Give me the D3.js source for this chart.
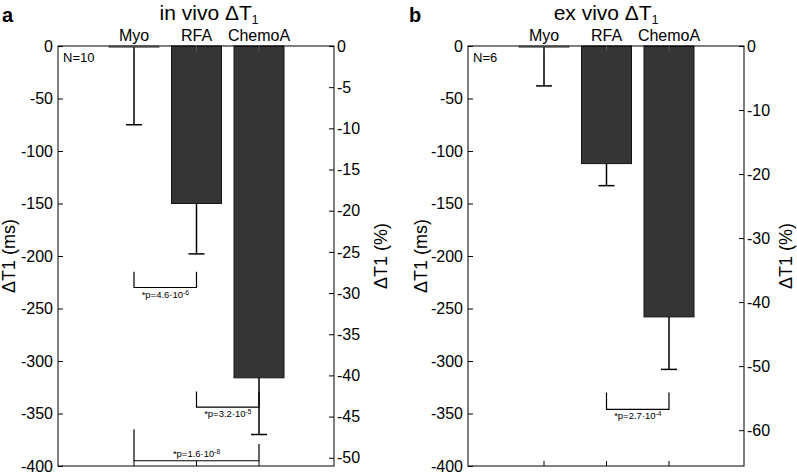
<!DOCTYPE html>
<html><head><meta charset="utf-8">
<script src="https://cdn.jsdelivr.net/npm/d3@7"></script>
<style>
body{margin:0;background:#fff;}
text{font-family:"Liberation Sans",Arial,Helvetica,sans-serif;fill:#000;}
</style></head>
<body><svg id="c" width="797" height="474"></svg>
<script>
const categories = ["Myo","RFA","ChemoA"];
const inVivoMean = [-1, -150, -316];
const inVivoErr  = [74, 48, 54];
const exVivoMean = [-1, -112, -258];
const exVivoErr  = [37, 21, 50];
const msTicks = [0,-50,-100,-150,-200,-250,-300,-350,-400];
const inVivoPctTicks = [0,-5,-10,-15,-20,-25,-30,-35,-40,-45,-50];
const exVivoPctTicks = [0,-10,-20,-30,-40,-50,-60];
const inVivoSig = [
  {a:0,b:1,legA:-215,legB:-215,bar:-230,label:"*p=4.6·10",exp:"-6",below:true},
  {a:1,b:2,legA:-329,legB:-329,bar:-344,label:"*p=3.2·10",exp:"-5",below:true},
  {a:0,b:2,legA:-365,legB:-379,bar:-395,label:"*p=1.6·10",exp:"-8",below:false}
];
const exVivoSig = [
  {a:1,b:2,legA:-330,legB:-330,bar:-346,label:"*p=2.7·10",exp:"-4",below:true}
];

const svg = d3.select("#c");
const fmt = d => String(d);

function panel(opt){
  const g = svg.append("g");
  const x = d3.scaleLinear().domain([-0.216, 4.2]).range([opt.x0, opt.x1]);
  const y = d3.scaleLinear().domain([-400, 0]).range([466, 46]);
  const yp = d3.scaleLinear().domain([opt.pctMin, 0]).range([466, 46]);
  const bw = x(0.8) - x(0);

  // bars
  g.selectAll("rect.bar").data(opt.mean).join("rect")
    .attr("x",(d,i)=>x(i+1)-bw/2).attr("width",bw)
    .attr("y",y(0)).attr("height",d=>Math.max(y(d)-y(0),1.5))
    .attr("fill",(d,i)=>i===0?"#888":"#353535")
    .attr("stroke",(d,i)=>i===0?"#888":"#151515").attr("stroke-width",1);

  // error bars
  opt.mean.forEach((m,i)=>{
    const cx = x(i+1), e = m - opt.err[i];
    g.append("line").attr("x1",cx).attr("x2",cx).attr("y1",y(m)).attr("y2",y(e))
      .attr("stroke","#000").attr("stroke-width",1.5);
    g.append("line").attr("x1",cx-8).attr("x2",cx+8).attr("y1",y(e)).attr("y2",y(e))
      .attr("stroke","#000").attr("stroke-width",1.5);
  });

  // box
  g.append("rect").attr("x",opt.x0).attr("y",46).attr("width",opt.x1-opt.x0).attr("height",420)
    .attr("fill","none").attr("stroke","#000").attr("stroke-width",1);

  // left axis (ms)
  const la = d3.axisLeft(y).tickValues(msTicks).tickSizeInner(-5).tickSizeOuter(0).tickPadding(5).tickFormat(fmt);
  const lag = g.append("g").attr("transform",`translate(${opt.x0},0)`).call(la);
  lag.select(".domain").remove();
  lag.selectAll("text").style("font-size","16px").attr("font-family","Liberation Sans");
  // right axis (%)
  const ra = d3.axisRight(yp).tickValues(opt.pctTicks).tickSizeInner(-5).tickSizeOuter(0).tickPadding(3).tickFormat(fmt);
  const rag = g.append("g").attr("transform",`translate(${opt.x1},0)`).call(ra);
  rag.select(".domain").remove();
  rag.selectAll("text").style("font-size","16px").attr("font-family","Liberation Sans");

  // category ticks top & bottom
  categories.forEach((c,i)=>{
    g.append("line").attr("x1",x(i+1)).attr("x2",x(i+1)).attr("y1",466).attr("y2",461).attr("stroke","#000");
    g.append("line").attr("x1",x(i+1)).attr("x2",x(i+1)).attr("y1",46).attr("y2",51).attr("stroke","#555");
  });
  // category labels
  g.selectAll("text.cat").data(categories).join("text").attr("class","cat")
    .attr("x",(d,i)=>x(i+1)).attr("y",41).attr("text-anchor","middle")
    .style("font-size","16px").text(d=>d);

  // N label
  g.append("text").attr("x",opt.x0+5).attr("y",62).style("font-size","13px").text(opt.n);

  // significance brackets
  opt.sig.forEach(s=>{
    const xa = x(s.a+1), xb = x(s.b+1);
    g.append("path").attr("d",`M${xa},${y(s.legA)}V${y(s.bar)}H${xb}V${y(s.legB)}`)
      .attr("fill","none").attr("stroke","#000").attr("stroke-width",1.2);
    const t = g.append("text").attr("x",(xa+xb)/2).attr("y",s.below?y(s.bar)+10:y(s.bar)-4)
      .attr("text-anchor","middle").style("font-size","9.5px");
    t.append("tspan").text(s.label);
    t.append("tspan").attr("dy",-3).style("font-size","6.5px").text(s.exp);
  });

  // axis titles
  g.append("text").attr("transform",`translate(${opt.x0-opt.lLabelOff},256) rotate(-90)`)
    .attr("text-anchor","middle").style("font-size","18px").text("ΔT1 (ms)");
  g.append("text").attr("transform",`translate(${opt.x1+opt.rLabelOff},256) rotate(-90)`)
    .attr("text-anchor","middle").style("font-size","18px").text("ΔT1 (%)");

  // title
  const tt = g.append("text").attr("x",opt.titleX).attr("y",20).attr("text-anchor","middle").style("font-size","21px");
  tt.append("tspan").text(opt.title + " ΔT");
  tt.append("tspan").attr("dy",4).style("font-size","12px").text("1");
  // panel letter
  g.append("text").attr("x",opt.letterX).attr("y",22).style("font-size","20px").style("font-weight","bold").text(opt.letter);
}

panel({x0:58,x1:334,mean:inVivoMean,err:inVivoErr,pctMin:-51,pctTicks:inVivoPctTicks,
  sig:inVivoSig,n:"N=10",title:"in vivo",titleX:209,letter:"a",letterX:2,lLabelOff:43,rLabelOff:53});
panel({x0:468,x1:744,mean:exVivoMean,err:exVivoErr,pctMin:-65.6,pctTicks:exVivoPctTicks,
  sig:exVivoSig,n:"N=6",title:"ex vivo",titleX:606,letter:"b",letterX:409,lLabelOff:41,rLabelOff:48});
</script></body></html>
